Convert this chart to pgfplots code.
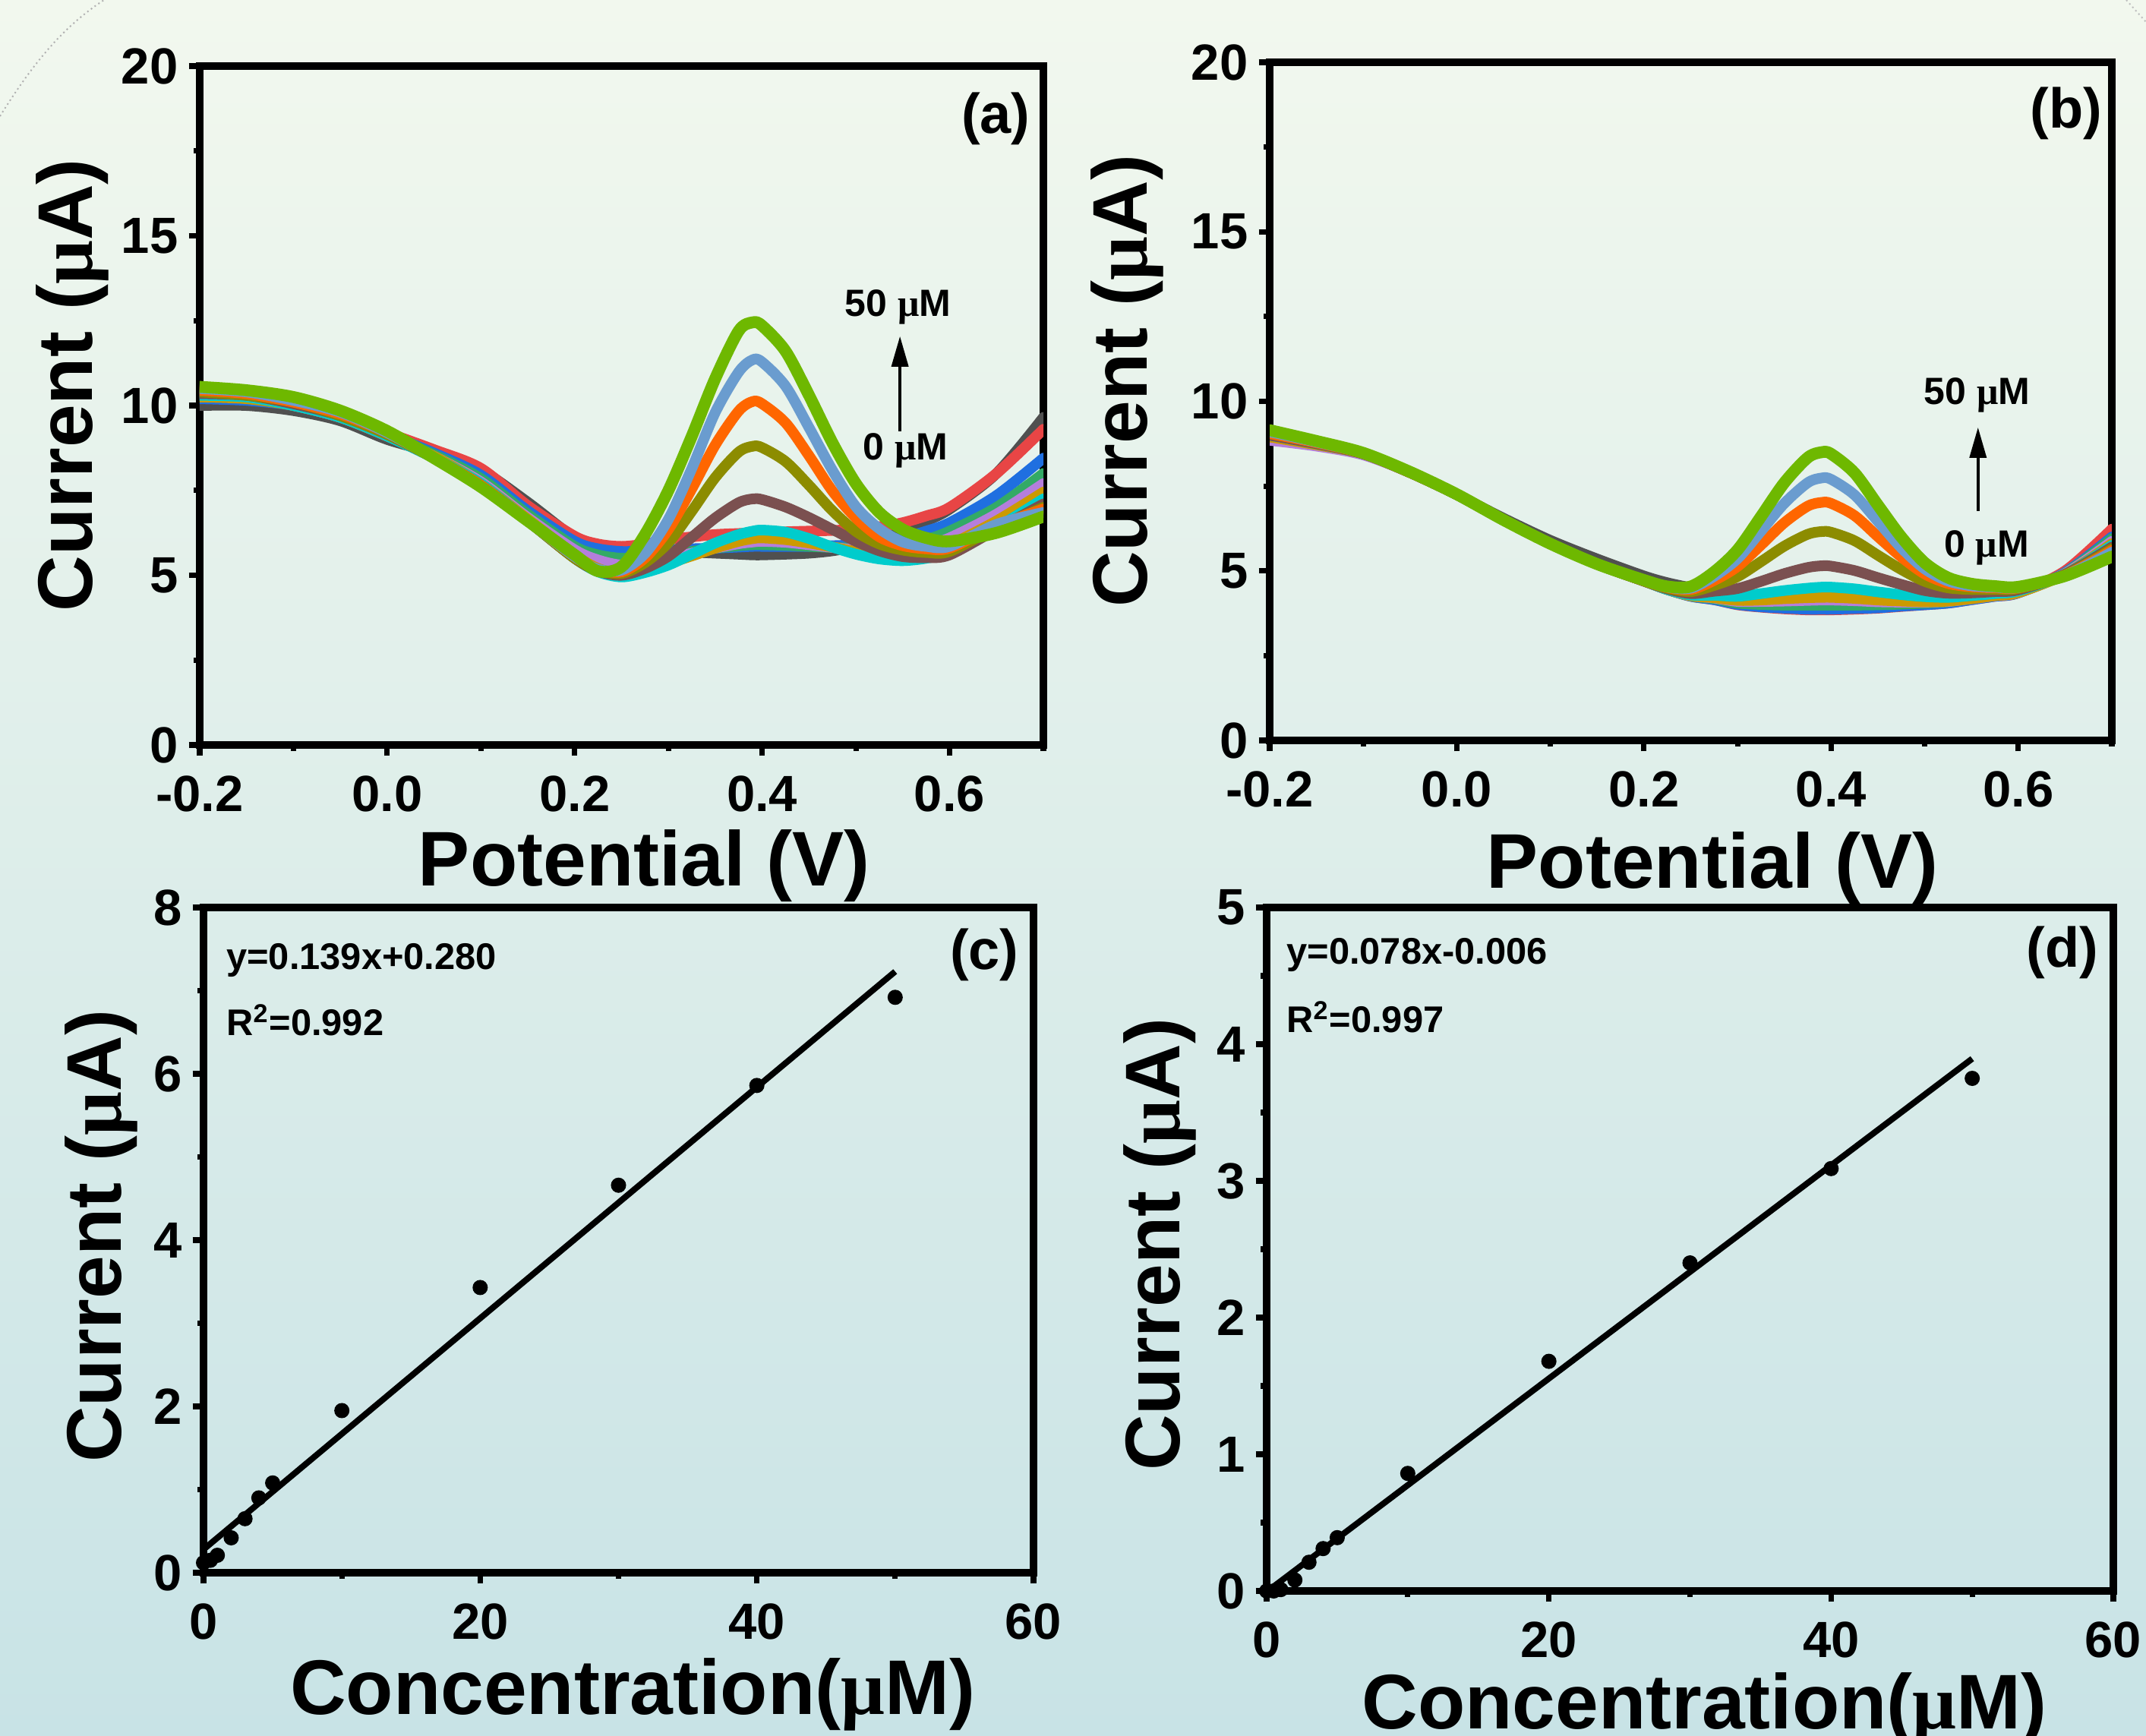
\documentclass[border=0pt]{standalone}
\usepackage{fontspec}
\setmainfont{Liberation Sans}
\newfontfamily\serifmu{Liberation Serif}
\usepackage{pgfplots}
\pgfplotsset{compat=1.18}
\usepackage{pgfplotstable}
\usetikzlibrary{arrows.meta}

\newcommand{\umu}{{\serifmu\bfseries μ}}

\definecolor{cgray}{HTML}{505050}
\definecolor{cred}{HTML}{E84545}
\definecolor{cblue}{HTML}{1F6FE0}
\definecolor{cteal}{HTML}{33AA66}
\definecolor{cpurple}{HTML}{B57EDC}
\definecolor{cgold}{HTML}{CC9A00}
\definecolor{ccyan}{HTML}{00CCCC}
\definecolor{cbrown}{HTML}{7B5050}
\definecolor{colive}{HTML}{8C8C00}
\definecolor{corange}{HTML}{FF6600}
\definecolor{csteel}{HTML}{6A9CCF}
\definecolor{clime}{HTML}{6EB800}
\definecolor{bgtop}{HTML}{F2F8EE}
\definecolor{bgmid}{HTML}{DEEEF2}
\definecolor{bgbot}{HTML}{C8E3E6}

\pgfplotstableread{
x gray red blue teal purple gold cyan brown olive orange steel lime
-0.2 10.0 10.4 10.2 10.35 10.3 10.25 10.3 10.35 10.4 10.45 10.5 10.55
-0.15 10.0 10.3 10.15 10.3 10.25 10.2 10.25 10.3 10.3 10.35 10.4 10.45
-0.1 9.85 10.1 10.0 10.05 10.0 10.0 10.0 10.05 10.1 10.1 10.15 10.25
-0.05 9.55 9.7 9.65 9.7 9.65 9.65 9.65 9.7 9.7 9.75 9.8 9.85
0 9.0 9.2 9.15 9.15 9.1 9.1 9.1 9.15 9.15 9.2 9.2 9.25
0.05 8.6 8.7 8.6 8.55 8.5 8.5 8.45 8.45 8.45 8.45 8.45 8.45
0.1 8.1 8.15 7.95 7.85 7.75 7.7 7.7 7.65 7.65 7.65 7.6 7.6
0.15 7.15 7.05 6.9 6.8 6.7 6.65 6.6 6.6 6.6 6.6 6.6 6.6
0.2 6.1 6.15 6.0 5.85 5.75 5.6 5.5 5.5 5.5 5.55 5.55 5.6
0.225 5.85 5.92 5.78 5.6 5.45 5.2 5.1 5.12 5.15 5.18 5.18 5.12
0.25 5.7 5.85 5.7 5.5 5.3 5.05 4.95 5.0 5.05 5.1 5.15 5.25
0.275 5.7 5.92 5.72 5.53 5.38 5.15 5.08 5.2 5.37 5.51 5.64 6.2
0.3 5.7 6.05 5.75 5.6 5.5 5.35 5.3 5.56 5.96 6.35 6.65 7.5
0.325 5.68 6.13 5.78 5.7 5.65 5.57 5.62 6.12 6.89 7.55 8.15 9.1
0.35 5.65 6.2 5.8 5.8 5.8 5.8 5.95 6.69 7.88 8.84 9.8 10.8
0.375 5.62 6.23 5.83 5.87 5.93 6.0 6.2 7.14 8.63 9.84 10.99 12.2
0.39 5.6 6.25 5.85 5.9 5.98 6.08 6.3 7.25 8.8 10.12 11.35 12.45
0.4 5.6 6.25 5.85 5.9 6.0 6.1 6.33 7.23 8.76 10.05 11.28 12.35
0.425 5.62 6.28 5.85 5.88 5.97 6.05 6.27 7.01 8.35 9.49 10.57 11.6
0.45 5.65 6.3 5.85 5.85 5.9 5.95 6.08 6.7 7.65 8.52 9.35 10.3
0.475 5.72 6.32 5.87 5.82 5.82 5.83 5.83 6.35 6.9 7.48 8.09 8.9
0.5 5.85 6.35 5.9 5.8 5.75 5.7 5.62 6.0 6.29 6.69 7.02 7.7
0.525 6.05 6.43 5.98 5.83 5.73 5.63 5.48 5.72 5.92 6.13 6.37 6.85
0.55 6.3 6.55 6.1 5.9 5.75 5.6 5.43 5.55 5.74 5.87 5.98 6.35
0.575 6.6 6.75 6.3 6.05 5.88 5.7 5.5 5.52 5.67 5.78 5.85 6.1
0.6 6.95 7.0 6.55 6.3 6.1 5.9 5.68 5.6 5.7 5.8 5.85 6.0
0.65 8.0 8.0 7.35 7.0 6.8 6.6 6.4 6.35 6.4 6.45 6.5 6.25
0.7 9.65 9.3 8.45 8.0 7.7 7.45 7.25 7.1 7.0 6.95 6.85 6.73
}\tabA

\pgfplotstableread{
x gray red blue teal purple gold cyan brown olive orange steel lime
-0.2 8.95 9.0 8.95 9.0 8.85 8.95 9.0 9.0 9.05 9.05 9.1 9.15
-0.15 8.72 8.75 8.72 8.75 8.68 8.72 8.75 8.75 8.78 8.78 8.8 8.83
-0.1 8.45 8.45 8.45 8.45 8.42 8.45 8.45 8.45 8.46 8.46 8.47 8.48
-0.05 7.9 7.9 7.9 7.9 7.9 7.9 7.9 7.9 7.9 7.9 7.91 7.92
0 7.25 7.25 7.25 7.25 7.25 7.25 7.25 7.25 7.25 7.25 7.25 7.26
0.05 6.55 6.5 6.5 6.5 6.5 6.5 6.5 6.5 6.5 6.5 6.5 6.5
0.1 5.9 5.8 5.8 5.8 5.8 5.8 5.8 5.8 5.8 5.8 5.8 5.8
0.15 5.35 5.2 5.2 5.2 5.2 5.2 5.2 5.2 5.2 5.2 5.2 5.2
0.2 4.85 4.7 4.7 4.7 4.7 4.7 4.7 4.7 4.7 4.71 4.72 4.73
0.225 4.65 4.45 4.45 4.45 4.45 4.45 4.45 4.47 4.49 4.51 4.52 4.54
0.25 4.5 4.25 4.25 4.26 4.27 4.27 4.29 4.33 4.39 4.45 4.49 4.54
0.275 4.35 4.15 4.15 4.18 4.2 4.21 4.28 4.4 4.57 4.72 4.84 4.97
0.3 4.25 4.0 4.01 4.05 4.1 4.13 4.25 4.48 4.83 5.13 5.36 5.62
0.325 4.15 3.93 3.94 4.01 4.1 4.14 4.33 4.69 5.27 5.76 6.17 6.6
0.35 4.1 3.88 3.9 3.99 4.11 4.18 4.42 4.92 5.73 6.42 6.99 7.6
0.375 4.05 3.85 3.87 3.99 4.13 4.21 4.49 5.1 6.08 6.91 7.6 8.34
0.39 4.05 3.85 3.87 3.99 4.14 4.22 4.52 5.15 6.16 7.02 7.74 8.5
0.4 4.05 3.85 3.87 3.99 4.14 4.22 4.52 5.14 6.14 6.99 7.7 8.45
0.425 4.05 3.87 3.89 3.99 4.12 4.19 4.47 5.01 5.89 6.63 7.24 7.89
0.45 4.05 3.9 3.91 4.0 4.09 4.14 4.38 4.8 5.46 6.01 6.46 6.94
0.475 4.08 3.95 3.96 4.02 4.08 4.11 4.3 4.6 5.04 5.41 5.68 6.0
0.5 4.1 4.0 4.0 4.05 4.08 4.09 4.24 4.42 4.69 4.91 5.06 5.24
0.525 4.15 4.05 4.05 4.09 4.1 4.11 4.22 4.34 4.5 4.63 4.7 4.8
0.55 4.22 4.15 4.15 4.18 4.18 4.18 4.27 4.35 4.45 4.53 4.56 4.62
0.575 4.3 4.25 4.25 4.27 4.27 4.27 4.33 4.39 4.45 4.5 4.52 4.55
0.6 4.4 4.35 4.35 4.36 4.36 4.36 4.41 4.44 4.48 4.5 4.51 4.53
0.65 4.95 5.0 4.95 4.93 4.92 4.9 4.9 4.9 4.88 4.87 4.86 4.85
0.7 6.15 6.23 6.0 5.95 5.87 5.8 5.75 5.7 5.65 5.6 5.55 5.42
}\tabB

\pgfplotstableread{
conc cur
0 0.12
0.5 0.15
1 0.21
2 0.42
3 0.65
4 0.9
5 1.08
10 1.95
20 3.43
30 4.66
40 5.86
50 6.92
}\tabC

\pgfplotstableread{
conc cur
0 0.0
0.5 0.0
1 0.01
2 0.08
3 0.21
4 0.31
5 0.39
10 0.86
20 1.68
30 2.40
40 3.09
50 3.75
}\tabD

\pgfplotsset{
  panel/.style={
    scale only axis,
    axis line style={line width=2.4pt},
    tick align=outside,
    xtick pos=bottom, ytick pos=left,
    major tick length=3.6pt, minor tick length=2pt,
    tick style={black, line width=1.8pt},
    tick label style={font=\fontsize{16.75}{18}\selectfont\bfseries},
    xticklabel style={yshift=-3pt},
    /pgf/number format/assume math mode=true,
    label style={font=\fontsize{25.5}{28}\selectfont\bfseries, inner sep=0pt},
  },
  cv/.style={smooth, no markers, line width=3.5pt, line join=round, line cap=round},
  cvpanel/.style={
    panel,
    xmin=-0.2, xmax=0.7, ymin=0, ymax=20,
    xtick={-0.2,0,0.2,0.4,0.6},
    minor xtick={-0.1,0.1,0.3,0.5,0.7},
    ytick={0,5,10,15,20},
    minor ytick={2.5,7.5,12.5,17.5},
    xticklabel style={/pgf/number format/.cd, fixed, fixed zerofill, precision=1},
    xlabel={Potential (V)},
    ylabel={Current (\umu A)},
  },
  linpanel/.style={
    panel, clip=false,
    xmin=0, xmax=60,
    xtick={0,20,40,60}, minor xtick={10,30,50},
    xlabel={Concentration(\umu M)},
    ylabel={Current (\umu A)},
  },
}

\newcommand{\allcurves}[1]{%
  \addplot[cv, cgray] table[x=x, y=gray] {#1};
  \addplot[cv, cred] table[x=x, y=red] {#1};
  \addplot[cv, cblue] table[x=x, y=blue] {#1};
  \addplot[cv, cteal] table[x=x, y=teal] {#1};
  \addplot[cv, cpurple] table[x=x, y=purple] {#1};
  \addplot[cv, cgold] table[x=x, y=gold] {#1};
  \addplot[cv, ccyan] table[x=x, y=cyan] {#1};
  \addplot[cv, cbrown] table[x=x, y=brown] {#1};
  \addplot[cv, colive] table[x=x, y=olive] {#1};
  \addplot[cv, corange] table[x=x, y=orange] {#1};
  \addplot[cv, csteel] table[x=x, y=steel] {#1};
  \addplot[cv, clime, line width=3.9pt] table[x=x, y=lime] {#1};
}

\begin{document}
\begin{tikzpicture}
\useasboundingbox (0pt,0pt) rectangle (706.5pt,571.25pt);
\shade[top color=bgtop, middle color=bgmid, bottom color=bgbot] (0pt,0pt) rectangle (706.5pt,571.25pt);
\draw[gray!60, densely dotted, line width=0.5pt] (0pt,533pt) .. controls (10pt,549pt) and (20pt,562pt) .. (34.25pt,571.25pt);
\draw[gray!50, densely dotted, line width=0.5pt] (700pt,571.25pt) -- (706.5pt,564pt);

% (a)
\begin{axis}[cvpanel, at={(65.75pt,326pt)}, anchor=south west,
  width=277.75pt, height=223.5pt,
  xlabel style={at={(axis description cs:0.527,-0.208)}, anchor=base},
  ylabel style={at={(axis description cs:-0.127,0.53)}, anchor=base},
]
\allcurves{\tabA}
\draw[-{Triangle[length=10pt,width=5.5pt]}, line width=0.9pt] (axis cs:0.547,9.24) -- (axis cs:0.547,12.04);
\node[font=\fontsize{12.5}{14}\selectfont\bfseries, inner sep=0pt] at (axis cs:0.545,12.9) {50 \umu M};
\node[font=\fontsize{12.5}{14}\selectfont\bfseries, inner sep=0pt] at (axis cs:0.553,8.68) {0 \umu M};
\node[font=\fontsize{18.5}{20}\selectfont\bfseries, anchor=north east, inner sep=0pt] at (rel axis cs:0.985,0.962) {(a)};
\end{axis}

% (b)
\begin{axis}[cvpanel, at={(418pt,327.5pt)}, anchor=south west,
  width=277.25pt, height=223.25pt,
  xlabel style={at={(axis description cs:0.526,-0.218)}, anchor=base},
  ylabel style={at={(axis description cs:-0.146,0.53)}, anchor=base},
]
\allcurves{\tabB}
\draw[-{Triangle[length=10pt,width=5.5pt]}, line width=0.9pt] (axis cs:0.557,6.76) -- (axis cs:0.557,9.23);
\node[font=\fontsize{12.5}{14}\selectfont\bfseries, inner sep=0pt] at (axis cs:0.556,10.19) {50 \umu M};
\node[font=\fontsize{12.5}{14}\selectfont\bfseries, inner sep=0pt] at (axis cs:0.566,5.69) {0 \umu M};
\node[font=\fontsize{18.5}{20}\selectfont\bfseries, anchor=north east, inner sep=0pt] at (rel axis cs:0.989,0.964) {(b)};
\end{axis}

% (c)
\begin{axis}[linpanel, at={(67pt,53.5pt)}, anchor=south west,
  width=273.25pt, height=219pt,
  ymin=0, ymax=8, ytick={0,2,4,6,8}, minor ytick={1,3,5,7},
  xlabel style={at={(axis description cs:0.517,-0.213)}, anchor=base},
  ylabel style={at={(axis description cs:-0.099,0.506)}, anchor=base},
]
\addplot[black, line width=2pt, no markers] coordinates {(0,0.28) (50,7.23)};
\addplot[only marks, mark=*, mark size=2.3pt, black] table[x=conc, y=cur] {\tabC};
\node[font=\fontsize{12.2}{14}\selectfont\bfseries, anchor=base west, inner sep=0pt] at (rel axis cs:0.027,0.907) {y=0.139x+0.280};
\node[font=\fontsize{12.2}{14}\selectfont\bfseries, anchor=base west, inner sep=0pt] at (rel axis cs:0.027,0.8075) {R\textsuperscript{2}=0.992};
\node[font=\fontsize{18.5}{20}\selectfont\bfseries, anchor=north east, inner sep=0pt] at (rel axis cs:0.983,0.969) {(c)};
\end{axis}

% (d)
\begin{axis}[linpanel, at={(417pt,47.5pt)}, anchor=south west,
  width=278.75pt, height=225pt,
  ymin=0, ymax=5, ytick={0,1,2,3,4,5}, minor ytick={0.5,1.5,2.5,3.5,4.5},
  xlabel style={at={(axis description cs:0.517,-0.202)}, anchor=base},
  ylabel style={at={(axis description cs:-0.103,0.507)}, anchor=base},
]
\addplot[black, line width=2pt, no markers] coordinates {(0,-0.006) (50,3.894)};
\addplot[only marks, mark=*, mark size=2.3pt, black] table[x=conc, y=cur] {\tabD};
\node[font=\fontsize{12.2}{14}\selectfont\bfseries, anchor=base west, inner sep=0pt] at (rel axis cs:0.023,0.917) {y=0.078x-0.006};
\node[font=\fontsize{12.2}{14}\selectfont\bfseries, anchor=base west, inner sep=0pt] at (rel axis cs:0.023,0.817) {R\textsuperscript{2}=0.997};
\node[font=\fontsize{18.5}{20}\selectfont\bfseries, anchor=north east, inner sep=0pt] at (rel axis cs:0.983,0.973) {(d)};
\end{axis}
\end{tikzpicture}
\end{document}
